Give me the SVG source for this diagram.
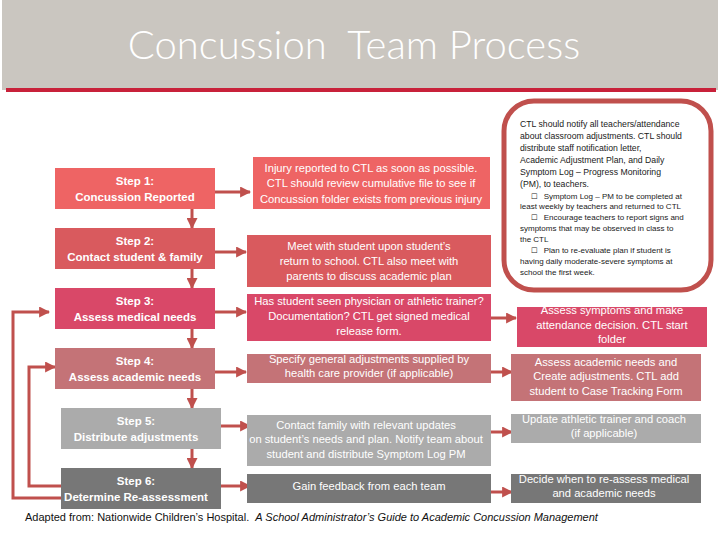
<svg xmlns="http://www.w3.org/2000/svg" width="720" height="540" viewBox="0 0 720 540">
<style>
.st{font-family:"Liberation Sans",Arial,sans-serif;font-size:11.5px;font-weight:bold;fill:#fff;text-anchor:middle}
.mt{font-family:"Liberation Sans",Arial,sans-serif;font-size:11.2px;fill:#fff;text-anchor:middle}
.nt{font-family:"Liberation Sans",Arial,sans-serif;font-size:8.7px;fill:#1a1a1a}
.bt{font-family:"Liberation Sans",Arial,sans-serif;font-size:8px;fill:#1a1a1a}
.cb{font-family:"DejaVu Sans",sans-serif;font-size:7.4px}
.c1{fill:#EE6464}.c2{fill:#D95A5E}.c3{fill:#D94868}.c4{fill:#C47377}.c5{fill:#ABABAB}.c6{fill:#777777}
.ln{stroke:#C0504D;stroke-width:3;fill:none}
</style>
<defs>
<marker id="ah" markerUnits="userSpaceOnUse" markerWidth="11" markerHeight="11" viewBox="0 0 10 10" refX="9" refY="5" orient="auto">
<path d="M0,0 L10,5 L0,10 z" fill="#C0504D"/>
</marker>
</defs>
<rect width="720" height="540" fill="#fff"/>
<g id="title">
<rect x="2" y="0" width="716" height="90" fill="#CAC6C0"/>
<rect x="6" y="88" width="710" height="4" fill="#C8213A"/>
<text x="354" y="59" font-family="Lato,'Open Sans',sans-serif" font-weight="300" font-size="40" fill="#fff" text-anchor="middle" xml:space="preserve">Concussion  Team Process</text>
</g>
<g id="connectors">
<line class="ln" x1="192" y1="209" x2="192" y2="228" marker-end="url(#ah)"/>
<line class="ln" x1="192" y1="269" x2="192" y2="288" marker-end="url(#ah)"/>
<line class="ln" x1="192" y1="329" x2="192" y2="348" marker-end="url(#ah)"/>
<line class="ln" x1="192" y1="389" x2="192" y2="408" marker-end="url(#ah)"/>
<line class="ln" x1="192" y1="449" x2="192" y2="468" marker-end="url(#ah)"/>
<line class="ln" x1="215" y1="192" x2="250" y2="192" marker-end="url(#ah)"/>
<line class="ln" x1="215" y1="252" x2="246" y2="252" marker-end="url(#ah)"/>
<line class="ln" x1="215" y1="312" x2="246" y2="312" marker-end="url(#ah)"/>
<line class="ln" x1="215" y1="372" x2="246" y2="372" marker-end="url(#ah)"/>
<line class="ln" x1="221" y1="426" x2="250" y2="426" marker-end="url(#ah)"/>
<line class="ln" x1="221" y1="486" x2="250" y2="486" marker-end="url(#ah)"/>
<line class="ln" x1="491" y1="318" x2="516" y2="318" marker-end="url(#ah)"/>
<line class="ln" x1="491" y1="372" x2="512" y2="372" marker-end="url(#ah)"/>
<line class="ln" x1="491" y1="432" x2="512" y2="432" marker-end="url(#ah)"/>
<line class="ln" x1="491" y1="492" x2="512" y2="492" marker-end="url(#ah)"/>
<polyline class="ln" points="61,498 13,498 13,312 49,312" marker-end="url(#ah)"/>
<polyline class="ln" points="61,486 29,486 29,367 55,367" marker-end="url(#ah)"/>
</g>
<g id="step1"><rect class="c1" x="55" y="168" width="160" height="41"/><text class="st" x="135" y="185">Step 1:</text><text class="st" x="135" y="201">Concussion Reported</text></g>
<g id="step2"><rect class="c2" x="55" y="228" width="160" height="41"/><text class="st" x="135" y="245">Step 2:</text><text class="st" x="135" y="261">Contact student &amp; family</text></g>
<g id="step3"><rect class="c3" x="55" y="288" width="160" height="41"/><text class="st" x="135" y="305">Step 3:</text><text class="st" x="135" y="321">Assess medical needs</text></g>
<g id="step4"><rect class="c4" x="55" y="348" width="160" height="41"/><text class="st" x="135" y="365">Step 4:</text><text class="st" x="135" y="381">Assess academic needs</text></g>
<g id="step5"><rect class="c5" x="61" y="408" width="160" height="41"/><text class="st" x="136" y="425">Step 5:</text><text class="st" x="136" y="441">Distribute adjustments</text></g>
<g id="step6"><rect class="c6" x="61" y="468" width="160" height="41"/><text class="st" x="136" y="485">Step 6:</text><text class="st" x="136" y="501">Determine Re-assessment</text></g>
<g id="mid1"><rect class="c1" x="253" y="157" width="237" height="52"/><text class="mt" x="371" y="172">Injury reported to CTL as soon as possible.</text><text class="mt" x="371" y="187">CTL should review cumulative file to see if</text><text class="mt" x="371" y="203">Concussion folder exists from previous injury</text></g>
<g id="mid2"><rect class="c2" x="247" y="235" width="244" height="52"/><text class="mt" x="369" y="250">Meet with student upon student’s</text><text class="mt" x="369" y="265">return to school. CTL also meet with</text><text class="mt" x="369" y="280">parents to discuss academic plan</text></g>
<g id="mid3"><rect class="c3" x="247" y="294" width="244" height="47"/><text class="mt" x="369" y="305">Has student seen physician or athletic trainer?</text><text class="mt" x="369" y="320">Documentation? CTL get signed medical</text><text class="mt" x="369" y="335">release form.</text></g>
<g id="mid4"><rect class="c4" x="247" y="354" width="244" height="29"/><text class="mt" x="369" y="363">Specify general adjustments supplied by</text><text class="mt" x="369" y="377">health care provider (if applicable)</text></g>
<g id="mid5"><rect class="c5" x="247" y="415" width="244" height="51"/><text class="mt" x="366" y="429">Contact family with relevant updates</text><text class="mt" x="366" y="443">on student’s needs and plan. Notify team about</text><text class="mt" x="366" y="458">student and distribute Symptom Log PM</text></g>
<g id="mid6"><rect class="c6" x="247" y="474" width="244" height="29"/><text class="mt" x="369" y="490">Gain feedback from each team</text></g>
<g id="notify">
<rect x="504" y="101" width="207" height="189" rx="30" ry="30" fill="#fff" stroke="#C0504D" stroke-width="5"/>
<text class="nt" x="520" y="127">CTL should notify all teachers/attendance</text>
<text class="nt" x="520" y="139">about classroom adjustments. CTL should</text>
<text class="nt" x="520" y="151">distribute staff notification letter,</text>
<text class="nt" x="520" y="163">Academic Adjustment Plan, and Daily</text>
<text class="nt" x="520" y="175">Symptom Log – Progress Monitoring</text>
<text class="nt" x="520" y="187">(PM), to teachers.</text>
<text class="bt" x="531" y="199"><tspan class="cb">☐</tspan><tspan dx="6">Symptom Log – PM to be completed at</tspan></text>
<text class="bt" x="520" y="209">least weekly by teachers and returned to CTL</text>
<text class="bt" x="531" y="220"><tspan class="cb">☐</tspan><tspan dx="6">Encourage teachers to report signs and</tspan></text>
<text class="bt" x="520" y="231">symptoms that may be observed in class to</text>
<text class="bt" x="520" y="242">the CTL</text>
<text class="bt" x="531" y="253"><tspan class="cb">☐</tspan><tspan dx="6">Plan to re-evaluate plan if student is</tspan></text>
<text class="bt" x="520" y="264">having daily moderate-severe symptoms at</text>
<text class="bt" x="520" y="275">school the first week.</text>
</g>
<g id="right3"><rect class="c3" x="517" y="307" width="190" height="40"/><text class="mt" x="612" y="314">Assess symptoms and make</text><text class="mt" x="612" y="329">attendance decision.  CTL start</text><text class="mt" x="612" y="343">folder</text></g>
<g id="right4"><rect class="c4" x="511" y="354" width="190" height="47"/><text class="mt" x="606" y="366">Assess academic needs and</text><text class="mt" x="606" y="380">Create adjustments. CTL add</text><text class="mt" x="606" y="395">student to Case Tracking Form</text></g>
<g id="right5"><rect class="c5" x="511" y="414" width="190" height="29"/><text class="mt" x="604" y="423">Update athletic trainer and coach</text><text class="mt" x="604" y="437">(if applicable)</text></g>
<g id="right6"><rect class="c6" x="511" y="474" width="190" height="29"/><text class="mt" x="604" y="483">Decide when to re-assess medical</text><text class="mt" x="604" y="497">and academic needs</text></g>
<text x="25" y="521" font-family="'Liberation Sans',Arial,sans-serif" font-size="11" fill="#111" xml:space="preserve">Adapted from: Nationwide Children’s Hospital.  <tspan font-style="italic">A School Administrator’s Guide to Academic Concussion Management</tspan></text>
</svg>
